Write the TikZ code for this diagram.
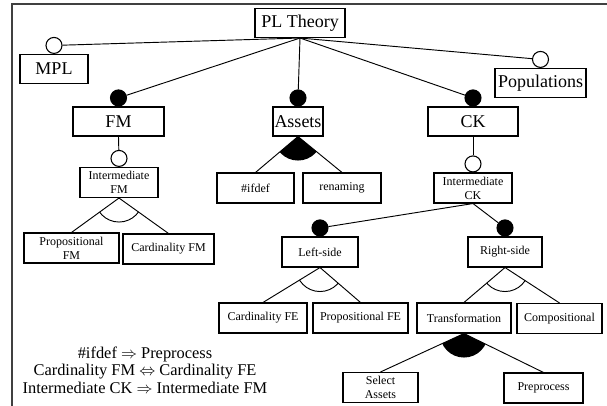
\documentclass[tikz,border=0pt]{standalone}
\usepackage{fontspec}
\setmainfont{Liberation Serif}
\usetikzlibrary{positioning}

\begin{document}
\begin{tikzpicture}[
    x=0.75pt, y=-0.75pt,
    line width=0.7pt,
    feat/.style={draw, line width=0.8pt, minimum width=#1, minimum height=21.75pt, inner sep=1pt, font=\fontsize{13.5}{15}\selectfont},
    sub/.style={draw, line width=0.8pt, minimum width=#1, minimum height=22.5pt, inner sep=1pt, align=center, font=\fontsize{9}{10.5}\selectfont},
    opt/.style={circle, draw, line width=0.8pt, fill=white, minimum size=12pt, inner sep=0pt, anchor=south},
    man/.style={opt, fill=black}
]
   \useasboundingbox (0,0) rectangle (607,406);

   % frame
   \draw[line width=1pt, black!75] (12,406) -- (12,4) -- (607,4);

   % top level
   \node[feat=67.5pt] (plt) at (300,23) {PL Theory};
   \node[feat=51pt] (mpl) at (54,69) {MPL};
   \node[feat=68.25pt] (pop) at (540.5,83) {Populations};
   \node[feat=68.25pt] (fm) at (118.5,121.5) {FM};
   \node[feat=37.5pt] (assets) at (298,121.5) {Assets};
   \node[feat=67.5pt] (ck) at (473,121.5) {CK};

   \node[opt] (mplc) at (mpl.north) {};
   \node[opt] (popc) at (pop.north) {};
   \node[man] (fmc) at (fm.north) {};
   \node[man] (assetsc) at (assets.north) {};
   \node[man] (ckc) at (ck.north) {};

   % FM side
   \node[sub=58.5pt] (ifm) at (119,182.5) {Intermediate\\FM};
   \node[sub=71.25pt] (pfm) at (71.5,248) {Propositional\\FM};
   \node[sub=68.25pt] (cfm) at (168.5,249) {Cardinality FM};
   \node[opt] (ifmc) at (ifm.north) {};

   % Assets side
   \node[sub=57.75pt] (ifdef) at (255.5,188) {\#ifdef};
   \node[sub=58.5pt] (ren) at (342,188) {renaming};

   % CK side
   \node[sub=58.5pt] (ick) at (473,188) {Intermediate\\CK};
   \node[opt] (ickc) at (ick.north) {};
   \node[sub=57pt] (left) at (320,252) {Left-side};
   \node[sub=55.5pt] (right) at (505,252) {Right-side};
   \node[man] (leftc) at (left.north) {};
   \node[man] (rightc) at (right.north) {};
   \node[sub=66pt] (cfe) at (263,318) {Cardinality FE};
   \node[sub=71.25pt] (pfe) at (360.5,318) {Propositional FE};
   \node[sub=70.5pt] (trans) at (464,318) {Transformation};
   \node[sub=63.75pt] (comp) at (559.5,318.5) {Compositional};
   \node[sub=56.25pt] (sel) at (380.5,387.5) {Select\\Assets};
   \node[sub=59.25pt] (pre) at (543.5,388) {Preprocess};

   % constraints
   \node[font=\fontsize{12.3}{13.2}\selectfont, align=center] (rules) at (145,370)
      {\#ifdef $\Rightarrow$ Preprocess\\
       Cardinality FM $\Leftrightarrow$ Cardinality FE\\
       Intermediate CK $\Rightarrow$ Intermediate FM};

   % edges to single features
   \draw (plt.south) -- (mplc);
   \draw (plt.south) -- (popc);
   \draw (plt.south) -- (fmc);
   \draw (plt.south) -- (assetsc);
   \draw (plt.south) -- (ckc);
   \draw (fm.south) -- (ifmc);
   \draw (ck.south) -- (ickc);
   \draw (ick.south) -- (leftc);
   \draw (ick.south) -- (rightc);

   % groups
   \draw (ifm.south) -- (pfm.north) (ifm.south) -- (cfm.north);
   \begin{scope}
      \clip (ifm.south) -- (pfm.north) -- (cfm.north) -- cycle;
      \draw (ifm.south) circle (18pt);
   \end{scope}

   \draw (assets.south) -- (ifdef.north) (assets.south) -- (ren.north);
   \begin{scope}
      \clip (assets.south) -- (ifdef.north) -- (ren.north) -- cycle;
      \fill (assets.south) circle (18pt);
   \end{scope}

   \draw (left.south) -- (cfe.north) (left.south) -- (pfe.north);
   \begin{scope}
      \clip (left.south) -- (cfe.north) -- (pfe.north) -- cycle;
      \draw (left.south) circle (18pt);
   \end{scope}

   \draw (right.south) -- (trans.north) (right.south) -- (comp.north);
   \begin{scope}
      \clip (right.south) -- (trans.north) -- (comp.north) -- cycle;
      \draw (right.south) circle (18pt);
   \end{scope}

   \draw (trans.south) -- (sel.north) (trans.south) -- (pre.north);
   \begin{scope}
      \clip (trans.south) -- (sel.north) -- (pre.north) -- cycle;
      \fill (trans.south) circle (18pt);
   \end{scope}

\end{tikzpicture}
\end{document}
